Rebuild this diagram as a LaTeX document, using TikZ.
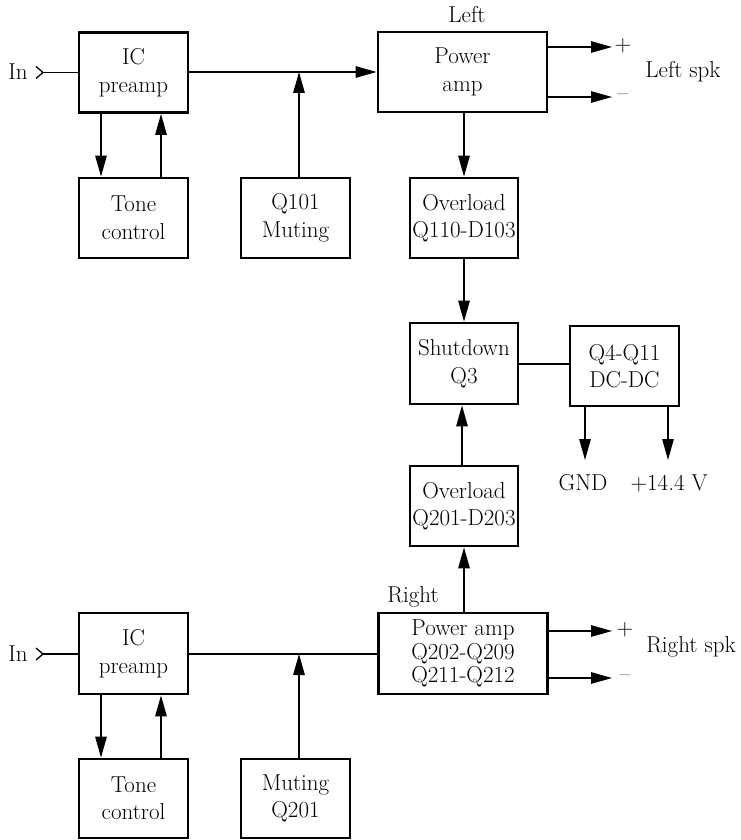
\documentclass[tikz,border=0pt]{standalone}
\usetikzlibrary{arrows.meta}
\begin{document}
\begin{tikzpicture}[x=1pt,y=-1pt,
  txt/.style={font=\fontsize{23}{27}\selectfont, inner sep=0pt, align=center},
  blk/.style={draw, line width=2.8pt, inner sep=0pt, align=center,
    minimum width=109pt, minimum height=80pt, font=\fontsize{23}{27.5}\selectfont},
  wideblk/.style={blk, minimum width=169pt},
  conn/.style={line width=1.3pt},
  arr/.style={conn, -{Triangle[length=21pt,width=11.5pt]}}]
\useasboundingbox (0,0) rectangle (741,840);

% ---------- left channel ----------
\node[blk] (pre1) at (133.5,72.5) {IC\\preamp};
\node[blk] (tone1) at (133.5,218) {Tone\\control};
\node[blk] (mute1) at (295.5,218) {Q101\\Muting};
\node[wideblk] (pa1) at (462.5,72) {Power\\amp};
\node[blk, minimum width=108pt] (ov1) at (464,218) {Overload\\Q110-D103};
\node[txt] (leftlbl) at (467,15) {Left};
\node[txt] (in1) at (18,72) {In};
\coordinate (chev1) at (43,72.5);
\draw[conn] ([xshift=-7pt,yshift=-6pt]chev1) -- (chev1) -- ([xshift=-7pt,yshift=6pt]chev1);
\draw[conn] (chev1) -- (pre1.west |- chev1);

\draw[arr] (pre1.east |- 0,72) -- (pa1.west |- 0,72);
\coordinate (j1) at (299,72);
\draw[arr] (mute1.north -| j1) -- (j1);
\draw[arr] (pre1.south -| 101,0) -- (tone1.north -| 101,0);
\draw[arr] (tone1.north -| 161,0) -- (pre1.south -| 161,0);
\draw[arr] (pa1.south -| 464,0) -- (ov1.north -| 464,0);

\coordinate (lp) at (612,47);
\coordinate (lm) at (612,97);
\draw[arr] (pa1.east |- lp) -- (lp);
\draw[arr] (pa1.east |- lm) -- (lm);
\node[txt] (lplus) at (623,46) {+};
\node[txt] (lminus) at (623,97) {--};
\node[txt] (lspk) at (683,72) {Left spk};

% ---------- shutdown / DC-DC ----------
\node[blk, minimum width=108pt, minimum height=81pt] (sd) at (464,363.5) {Shutdown\\Q3};
\node[blk] (dc) at (624.5,366) {Q4-Q11\\DC-DC};
\draw[arr] (ov1.south -| 464,0) -- (sd.north -| 464,0);
\draw[conn] (sd.east |- 0,364) -- (dc.west |- 0,364);
\coordinate (gndtip) at (585,460);
\coordinate (vtip) at (668,460);
\draw[arr] (dc.south -| gndtip) -- (gndtip);
\draw[arr] (dc.south -| vtip) -- (vtip);
\node[txt] (gnd) at (583,483) {GND};
\node[txt] (vplus) at (669,483) {+14.4 V};

% ---------- right channel ----------
\node[blk, minimum width=108pt] (ov2) at (464,506) {Overload\\Q201-D203};
\node[wideblk, minimum height=81pt, font=\fontsize{23}{23.5}\selectfont] (pa2) at (463,653.5) {Power amp\\Q202-Q209\\Q211-Q212};
\node[txt] (rightlbl) at (413,597) {Right};
\draw[arr] (ov2.north -| 462,0) -- (sd.south -| 462,0);
\draw[arr] (pa2.north -| 464,0) -- (ov2.south -| 464,0);

\coordinate (rp) at (612,631);
\coordinate (rm) at (612,678);
\draw[arr] (pa2.east |- rp) -- (rp);
\draw[arr] (pa2.east |- rm) -- (rm);
\node[txt] (rplus) at (625,630) {+};
\node[txt] (rminus) at (625,678) {--};
\node[txt] (rspk) at (691,647) {Right spk};

\node[blk, minimum height=81pt] (pre2) at (133.5,653.5) {IC\\preamp};
\node[blk, minimum height=79pt] (tone2) at (133.5,798.5) {Tone\\control};
\node[blk, minimum height=79pt] (mute2) at (295.5,798.5) {Muting\\Q201};
\node[txt] (in2) at (18,654) {In};
\coordinate (chev2) at (43,654);
\draw[conn] ([xshift=-7pt,yshift=-6pt]chev2) -- (chev2) -- ([xshift=-7pt,yshift=6pt]chev2);
\draw[conn] (chev2) -- (pre2.west |- chev2);

\draw[conn] (pre2.east |- 0,654) -- (pa2.west |- 0,654);
\coordinate (j2) at (299,654);
\draw[arr] (mute2.north -| j2) -- (j2);
\draw[arr] (pre2.south -| 101,0) -- (tone2.north -| 101,0);
\draw[arr] (tone2.north -| 161,0) -- (pre2.south -| 161,0);
\end{tikzpicture}
\end{document}
